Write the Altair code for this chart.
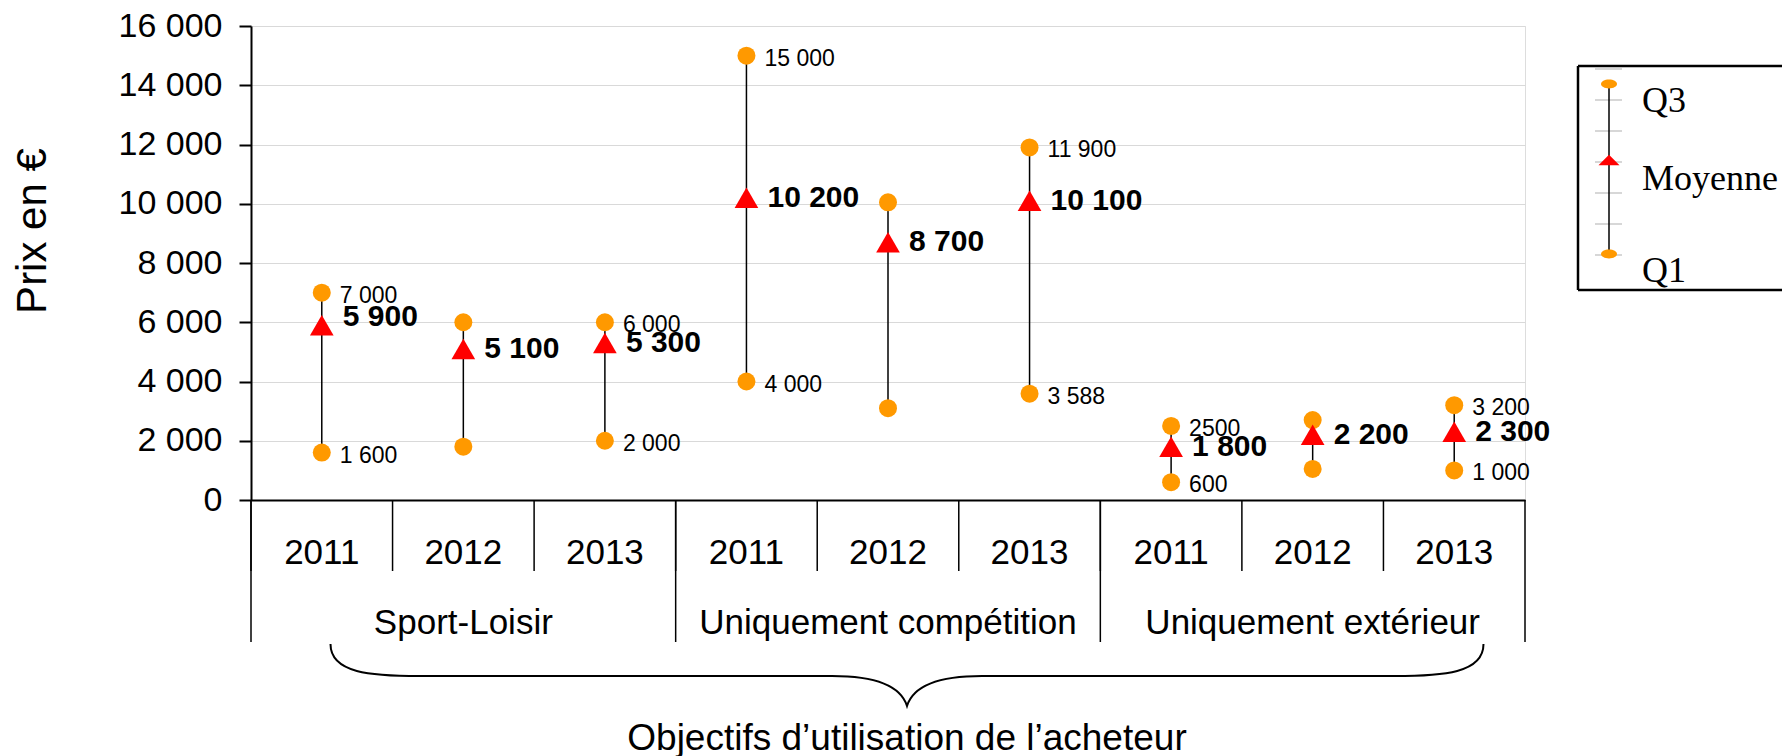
import altair as alt
import pandas as pd

# ---- data ----
groups = ["Sport-Loisir", "Uniquement compétition", "Uniquement extérieur"]
years = ["2011", "2012", "2013"]
q1 = [1600, 1800, 2000, 4000, 3100, 3588, 600, 1050, 1000]
mean = [5900, 5100, 5300, 10200, 8700, 10100, 1800, 2200, 2300]
q3 = [7000, 6000, 6000, 15000, 10050, 11900, 2500, 2700, 3200]
q1_labels = ["1 600", "", "2 000", "4 000", "", "3 588", "600", "", "1 000"]
q3_labels = ["7 000", "", "6 000", "15 000", "", "11 900", "2500", "", "3 200"]
mean_labels = ["5 900", "5 100", "5 300", "10 200", "8 700", "10 100", "1 800", "2 200", "2 300"]
y_ticks = [0, 2000, 4000, 6000, 8000, 10000, 12000, 14000, 16000]

rows = []
i = 0
for g in groups:
    for yr in years:
        rows.append({
            "key": f"{g}|{yr}", "group": g, "year": yr,
            "q1": q1[i], "mean": mean[i], "q3": q3[i],
            "q1_label": q1_labels[i], "q3_label": q3_labels[i],
            "mean_label": mean_labels[i],
        })
        i += 1
df = pd.DataFrame(rows)
keys = list(df["key"])
one = pd.DataFrame({"a": [0]})

W, H = 1274, 474
ORANGE = "#FF9900"
RED = "#FF0000"
SANS = "Liberation Sans"
SERIF = "Liberation Serif"

xscale = alt.Scale(type="band", paddingInner=0, paddingOuter=0, domain=keys)
xaxis = alt.Axis(labels=False, ticks=False, title=None, grid=False,
                 domain=True, domainColor="black", domainWidth=2)
yscale = alt.Scale(domain=[0, 16000], nice=False, zero=True)
yaxis = alt.Axis(values=y_ticks, title=None,
                 labelExpr="replace(format(datum.value, ','), ',', ' ')",
                 labelFont=SANS, labelFontSize=34, labelColor="black",
                 labelPadding=17, tickSize=12, tickColor="black", tickWidth=2,
                 domainColor="black", domainWidth=2,
                 grid=True, gridColor="#d9d9d9", gridWidth=1)

X = alt.X("key:N", scale=xscale, axis=xaxis, sort=keys)

base = alt.Chart(df)

ranges = base.mark_rule(color="black", strokeWidth=1.5).encode(
    x=X,
    y=alt.Y("q1:Q", scale=yscale, axis=yaxis),
    y2="q3:Q",
)
dot_q1 = base.mark_point(shape="circle", filled=True, size=324, color=ORANGE, opacity=1).encode(
    x=X, y=alt.Y("q1:Q", scale=yscale, axis=yaxis))
dot_q3 = base.mark_point(shape="circle", filled=True, size=324, color=ORANGE, opacity=1).encode(
    x=X, y=alt.Y("q3:Q", scale=yscale, axis=yaxis))
tri = base.mark_point(shape="triangle-up", filled=True, size=560, color=RED, opacity=1).encode(
    x=X, y=alt.Y("mean:Q", scale=yscale, axis=yaxis))

lab_q1 = base.mark_text(align="left", baseline="middle", dx=18, dy=3, font=SANS,
                        fontSize=23, color="black").encode(
    x=X, y=alt.Y("q1:Q", scale=yscale, axis=yaxis), text="q1_label:N")
lab_q3 = base.mark_text(align="left", baseline="middle", dx=18, dy=3, font=SANS,
                        fontSize=23, color="black").encode(
    x=X, y=alt.Y("q3:Q", scale=yscale, axis=yaxis), text="q3_label:N")
lab_mean = base.transform_filter(alt.datum.key != keys[0]).mark_text(
    align="left", baseline="middle", dx=21, font=SANS,
    fontSize=30, fontWeight="bold", color="black").encode(
    x=X, y=alt.Y("mean:Q", scale=yscale, axis=yaxis), text="mean_label:N")
lab_mean_first = base.transform_filter(alt.datum.key == keys[0]).mark_text(
    align="left", baseline="middle", dx=21, dy=-8, font=SANS,
    fontSize=30, fontWeight="bold", color="black").encode(
    x=X, y=alt.Y("mean:Q", scale=yscale, axis=yaxis), text="mean_label:N")

# hierarchical category axis
year_text = base.mark_text(baseline="middle", font=SANS, fontSize=35, color="black").encode(
    x=X, y=alt.value(527), text="year:N")
group_text = base.transform_filter(alt.datum.year == "2012").mark_text(
    baseline="middle", font=SANS, fontSize=35, color="black").encode(
    x=X, y=alt.value(597), text="group:N")
Xstart = alt.X("key:N", scale=xscale, axis=xaxis, sort=keys, bandPosition=0)
Xend = alt.X("key:N", scale=xscale, axis=xaxis, sort=keys, bandPosition=1)
sep_short = base.mark_rule(color="black", strokeWidth=1.5).encode(
    x=Xstart, y=alt.value(H), y2=alt.value(545))
sep_long = base.transform_filter(alt.datum.year == "2011").mark_rule(
    color="black", strokeWidth=1.5).encode(x=Xstart, y=alt.value(H), y2=alt.value(616))
sep_last = base.transform_filter(alt.datum.key == keys[-1]).mark_rule(
    color="black", strokeWidth=1.5).encode(x=Xend, y=alt.value(H), y2=alt.value(616))

# curly brace under the groups
BRACE = ("M -1 -0.0555 C -1 -0.005 -0.93 0 -0.845 0 L -0.13 0 "
         "C -0.05 0 -0.01 0.02 0 0.052 C 0.01 0.02 0.05 0 0.13 0 "
         "L 0.845 0 C 0.93 0 1 -0.005 1 -0.0555")
brace = alt.Chart(one).mark_point(shape=BRACE, size=1153 ** 2, filled=False,
                                  stroke="black", strokeWidth=2, opacity=1).encode(
    x=alt.value(656), y=alt.value(650))

x_title = alt.Chart(one).mark_text(text="Objectifs d’utilisation de l’acheteur",
                                   font=SANS, fontSize=37, baseline="alphabetic",
                                   color="black").encode(x=alt.value(656), y=alt.value(724))
y_title = alt.Chart(one).mark_text(text="Prix en €", font=SANS, fontSize=42, angle=270,
                                   baseline="middle", color="black").encode(
    x=alt.value(-218), y=alt.value(205))

# custom legend box (right side runs off the picture, as in the reference)
BOX_L, BOX_R, BOX_T, BOX_B = 1327, 1540, 40, 264
leg_layers = [
    alt.Chart(one).mark_rect(fill="white").encode(
        x=alt.value(BOX_L), x2=alt.value(BOX_R), y=alt.value(BOX_T), y2=alt.value(BOX_B)),
    alt.Chart(one).mark_rule(color="black", strokeWidth=2.5).encode(
        x=alt.value(BOX_L), y=alt.value(BOX_T), y2=alt.value(BOX_B)),
    alt.Chart(one).mark_rule(color="black", strokeWidth=2.5).encode(
        x=alt.value(BOX_L), x2=alt.value(BOX_R), y=alt.value(BOX_T)),
    alt.Chart(one).mark_rule(color="black", strokeWidth=2.5).encode(
        x=alt.value(BOX_L), x2=alt.value(BOX_R), y=alt.value(BOX_B)),
]
for ty in [43, 74, 105, 136, 167, 198, 229]:
    leg_layers.append(alt.Chart(one).mark_rule(color="#bdbdbd", strokeWidth=1.2).encode(
        x=alt.value(1344), x2=alt.value(1371), y=alt.value(ty)))
leg_layers.append(alt.Chart(one).mark_rule(color="black", strokeWidth=1.5).encode(
    x=alt.value(1358), y=alt.value(58), y2=alt.value(228)))
ELLIPSE = "M -1 0 A 1 0.55 0 1 0 1 0 A 1 0.55 0 1 0 -1 0 Z"
FLAT_TRI = "M 0 -0.5 L 1 0.5 L -1 0.5 Z"
for yy in [58, 228]:
    leg_layers.append(alt.Chart(one).mark_point(shape=ELLIPSE, size=256, filled=True,
                                                color=ORANGE, opacity=1).encode(
        x=alt.value(1358), y=alt.value(yy)))
leg_layers.append(alt.Chart(one).mark_point(shape=FLAT_TRI, size=441, filled=True,
                                            color=RED, opacity=1).encode(
    x=alt.value(1358), y=alt.value(134)))
for txt, yy in [("Q3", 86), ("Moyenne", 164), ("Q1", 256)]:
    leg_layers.append(alt.Chart(one).mark_text(text=txt, font=SERIF, fontSize=36,
                                               align="left", baseline="alphabetic",
                                               color="black").encode(
        x=alt.value(1391), y=alt.value(yy)))

chart = alt.layer(
    ranges, dot_q1, dot_q3, tri, lab_q1, lab_q3, lab_mean, lab_mean_first,
    sep_short, sep_long, sep_last, year_text, group_text,
    brace, x_title, y_title, *leg_layers,
).properties(
    width=W, height=H,
    padding={"left": 243, "top": 18, "right": 257, "bottom": 256},
    autosize=alt.AutoSizeParams(type="none"),
).configure_view(stroke=None).configure(background="white")

chart.save("out.html", embed_options={"renderer": "svg", "actions": False})
